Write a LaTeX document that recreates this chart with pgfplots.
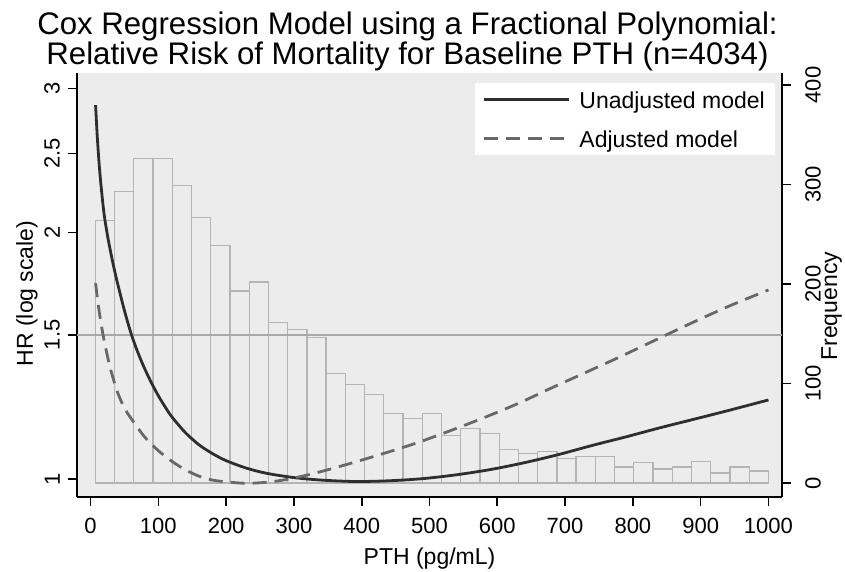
\documentclass[border=0pt]{standalone}
\usepackage{fontspec}
\setmainfont{Liberation Sans}
\usepackage{pgfplots}
\pgfplotsset{compat=1.18}

\definecolor{plotbg}{HTML}{ECECEC}
\definecolor{solidc}{HTML}{2E2E2E}
\definecolor{dashc}{HTML}{686868}
\definecolor{barc}{HTML}{B4B4B4}
\definecolor{refc}{HTML}{A8A8A8}

\pgfplotsset{
  common/.style={
    width=705pt, height=424pt, scale only axis,
    xmin=-20, xmax=1020,
    tick align=outside,
    major tick length=9pt,
    tick style={black, line width=1.6pt},
    axis line style={black, line width=2pt, -},
    tick label style={font=\fontsize{22}{26}\selectfont},
    /pgf/number format/assume math mode=true,
    /pgf/number format/1000 sep={},
  }
}

\begin{document}
\begin{tikzpicture}
% histogram, right axis
\begin{axis}[common, name=bars,
  axis background/.style={fill=plotbg},
  axis x line=none,
  axis y line*=right,
  ymin=-14, ymax=412,
  ytick={0,100,200,300,400},
  yticklabel style={rotate=90, anchor=north, inner sep=0pt},
  yticklabel shift=14pt,
  ylabel={Frequency},
  ylabel style={at={([xshift=55pt]axis description cs:1,0.45)}, anchor=base, rotate=0,
    font=\fontsize{23}{27}\selectfont},
]
\addplot[ybar interval, draw=barc, line width=1.3pt, fill=none] coordinates {
  (7,264) (35.37,293) (63.74,326) (92.11,326) (120.49,299) (148.86,267)
  (177.23,239) (205.60,193) (233.97,202) (262.34,161) (290.71,154) (319.08,146)
  (347.45,110) (375.82,99) (404.19,89) (432.57,70) (460.94,65) (489.31,70)
  (517.68,48) (546.05,55) (574.42,50) (602.79,34) (631.16,30) (659.53,32)
  (687.90,25) (716.28,27) (744.65,27) (773.02,16) (801.39,21) (829.76,14)
  (858.13,16) (886.50,22) (914.87,10) (943.24,16) (971.61,12) (1000,0)
};
\end{axis}

% hazard ratio curves, left log axis
\begin{axis}[common, name=curves,
  axis x line*=bottom, axis y line*=left,
  ymode=log, ymin=0.9506, ymax=3.134,
  ytick={1,1.5,2,2.5,3}, yticklabels={1,1.5,2,2.5,3},
  xtick={0,100,...,1000},
  yticklabel style={rotate=90, anchor=south, inner sep=0pt},
  yticklabel shift=8pt,
  xticklabel style={anchor=north, inner sep=0pt},
  xticklabel shift=11.5pt,
  xlabel={PTH (pg/mL)},
  xlabel style={at={([yshift=-67pt]axis description cs:0.5,0)}, anchor=base,
    font=\fontsize{23}{27}\selectfont},
  ylabel={HR (log scale)},
  ylabel style={at={([xshift=-44pt]axis description cs:0,0.48)}, anchor=base,
    font=\fontsize{23}{27}\selectfont},
  legend style={at={(1,1)}, anchor=north east, xshift=-7pt, yshift=-10pt,
    draw=none, fill=white, font=\fontsize{23}{27}\selectfont,
    inner xsep=8pt, inner ysep=4pt, row sep=13.3pt, column sep=7pt,
    /tikz/every even column/.append style={text height=19.7pt, text depth=0pt}},
  legend cell align=left,
  legend image code/.code={\draw[#1, line width=2.8pt] (0pt,0pt) -- (85pt,0pt);},
]
\addplot[refc, line width=1.3pt, forget plot] coordinates {(-20,1.5) (1020,1.5)};

\addplot[solidc, line width=2.8pt, smooth] coordinates {
  (7.4,2.863) (10,2.612) (13,2.406) (16,2.259) (20,2.106) (25,1.984)
  (30,1.887) (35,1.804) (40,1.732) (50,1.606) (60,1.504) (70,1.426)
  (80,1.363) (90,1.310) (100,1.264) (110,1.225) (120,1.191) (140,1.139)
  (160,1.101) (180,1.074) (200,1.053) (230,1.031) (260,1.016) (300,1.004)
  (340,0.997) (390,0.993) (440,0.995) (490,1.001) (540,1.012) (590,1.027)
  (640,1.047) (690,1.071) (740,1.099) (790,1.126) (840,1.155) (890,1.183)
  (940,1.212) (1000,1.249)
};
\addlegendentry{Unadjusted model}

\addplot[dashc, line width=2.8pt, dash pattern=on 14pt off 8pt, smooth] coordinates {
  (7.4,1.735) (10,1.665) (13,1.597) (16,1.540) (20,1.477) (25,1.412)
  (30,1.357) (40,1.275) (50,1.221) (60,1.185) (80,1.125) (100,1.083)
  (120,1.051) (140,1.026) (160,1.008) (180,0.997) (200,0.992) (230,0.988)
  (260,0.991) (290,0.999) (330,1.016) (380,1.043) (430,1.073) (480,1.106)
  (530,1.145) (580,1.188) (630,1.236) (680,1.292) (730,1.349) (780,1.409)
  (830,1.474) (880,1.542) (940,1.624) (1000,1.702)
};
\addlegendentry{Adjusted model}
\end{axis}

\node[anchor=base, font=\fontsize{31.2}{30}\selectfont] at ([xshift=-22pt, yshift=38pt]curves.north)
  {Cox Regression Model using a Fractional Polynomial:};
\node[anchor=base, font=\fontsize{31.2}{30}\selectfont] at ([xshift=-22pt, yshift=8pt]curves.north)
  {Relative Risk of Mortality for Baseline PTH (n=4034)};

\pgfresetboundingbox
\useasboundingbox ([shift={(-77pt,-74pt)}]curves.south west)
  rectangle ([shift={(768pt,497pt)}]curves.south west);
\end{tikzpicture}
\end{document}
